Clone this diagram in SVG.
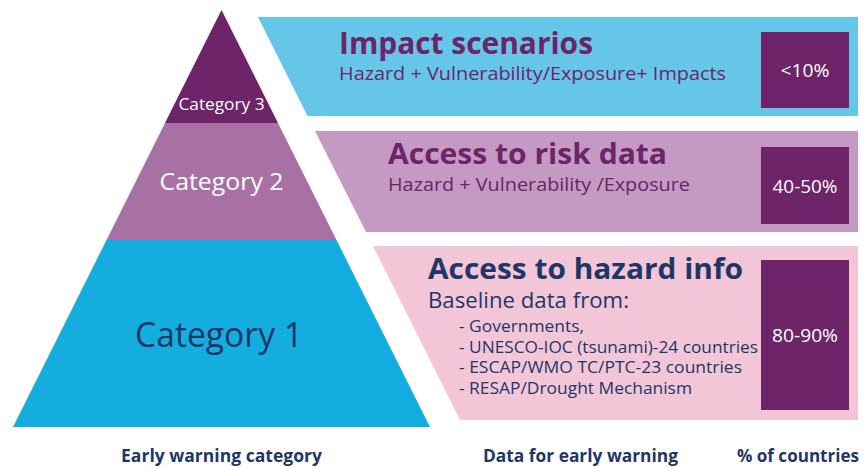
<svg xmlns="http://www.w3.org/2000/svg" width="864" height="468" viewBox="0 0 864 468">
<style>
text{font-family:"Open Sans","Noto Sans","Liberation Sans",sans-serif}
.b{font-weight:700}
.pur{fill:#6d2468}
.nav{fill:#1f3766}
.wh{fill:#ffffff}
.box{fill:#6d2468}
.mid{text-anchor:middle}
</style>
<rect width="864" height="468" fill="#ffffff"/>
<g id="pyramid">
  <g id="cat3">
    <polygon points="221.5,10 278,123 165,123" fill="#6d2468"/>
    <text x="221.5" y="110" font-size="16.5" class="wh mid" textLength="86" lengthAdjust="spacingAndGlyphs">Category 3</text>
  </g>
  <g id="cat2">
    <polygon points="165,123 278,123 336.5,240 106.5,240" fill="#a971a3"/>
    <text x="221.5" y="190" font-size="24" class="wh mid" textLength="124" lengthAdjust="spacingAndGlyphs">Category 2</text>
  </g>
  <g id="cat1">
    <polygon points="106.5,240 336.5,240 430,427 13,427" fill="#13aedf"/>
    <text x="219" y="347" font-size="35" class="nav mid" textLength="168" lengthAdjust="spacingAndGlyphs">Category 1</text>
  </g>
</g>
<g id="impact">
  <polygon points="258,17 858,17 858,116 307.5,116" fill="#66c6e8"/>
  <text x="339" y="54" font-size="30" class="b pur" textLength="254" lengthAdjust="spacingAndGlyphs">Impact scenarios</text>
  <text x="339" y="80" font-size="18" class="pur" textLength="387" lengthAdjust="spacingAndGlyphs">Hazard + Vulnerability/Exposure+ Impacts</text>
  <rect x="761" y="32" width="88" height="76" class="box"/>
  <text x="805" y="77" font-size="18.5" class="wh mid" textLength="49" lengthAdjust="spacingAndGlyphs">&lt;10%</text>
</g>
<g id="risk">
  <polygon points="315,131 858,131 858,232 366,232" fill="#c49ac2"/>
  <text x="388" y="164" font-size="28" class="b pur" textLength="279" lengthAdjust="spacingAndGlyphs">Access to risk data</text>
  <text x="388" y="191" font-size="18" class="pur" textLength="302" lengthAdjust="spacingAndGlyphs">Hazard + Vulnerability /Exposure</text>
  <rect x="761" y="147" width="88" height="77" class="box"/>
  <text x="805" y="193" font-size="18" class="wh mid" textLength="65" lengthAdjust="spacingAndGlyphs">40-50%</text>
</g>
<g id="hazard">
  <polygon points="373,246 858,246 858,420 460,420" fill="#f2c6d6"/>
  <text x="428" y="279" font-size="29" class="b nav" textLength="315" lengthAdjust="spacingAndGlyphs">Access to hazard info</text>
  <text x="428" y="308" font-size="22" class="nav" textLength="201" lengthAdjust="spacingAndGlyphs">Baseline data from:</text>
  <text x="459" y="332" font-size="16" class="nav" textLength="125" lengthAdjust="spacingAndGlyphs">- Governments,</text>
  <text x="459" y="352.5" font-size="16" class="nav" textLength="299" lengthAdjust="spacingAndGlyphs">- UNESCO-IOC (tsunami)-24 countries</text>
  <text x="459" y="373" font-size="16" class="nav" textLength="283" lengthAdjust="spacingAndGlyphs">- ESCAP/WMO TC/PTC-23 countries</text>
  <text x="459" y="394" font-size="16" class="nav" textLength="233" lengthAdjust="spacingAndGlyphs">- RESAP/Drought Mechanism</text>
  <rect x="761" y="260" width="88" height="150" class="box"/>
  <text x="805" y="342" font-size="18" class="wh mid" textLength="66" lengthAdjust="spacingAndGlyphs">80-90%</text>
</g>
<g id="labels">
  <text x="121" y="462" font-size="17" class="b nav" textLength="201" lengthAdjust="spacingAndGlyphs">Early warning category</text>
  <text x="483" y="462" font-size="17" class="b nav" textLength="195" lengthAdjust="spacingAndGlyphs">Data for early warning</text>
  <text x="737" y="462" font-size="17" class="b nav" textLength="122" lengthAdjust="spacingAndGlyphs">% of countries</text>
</g>
</svg>
